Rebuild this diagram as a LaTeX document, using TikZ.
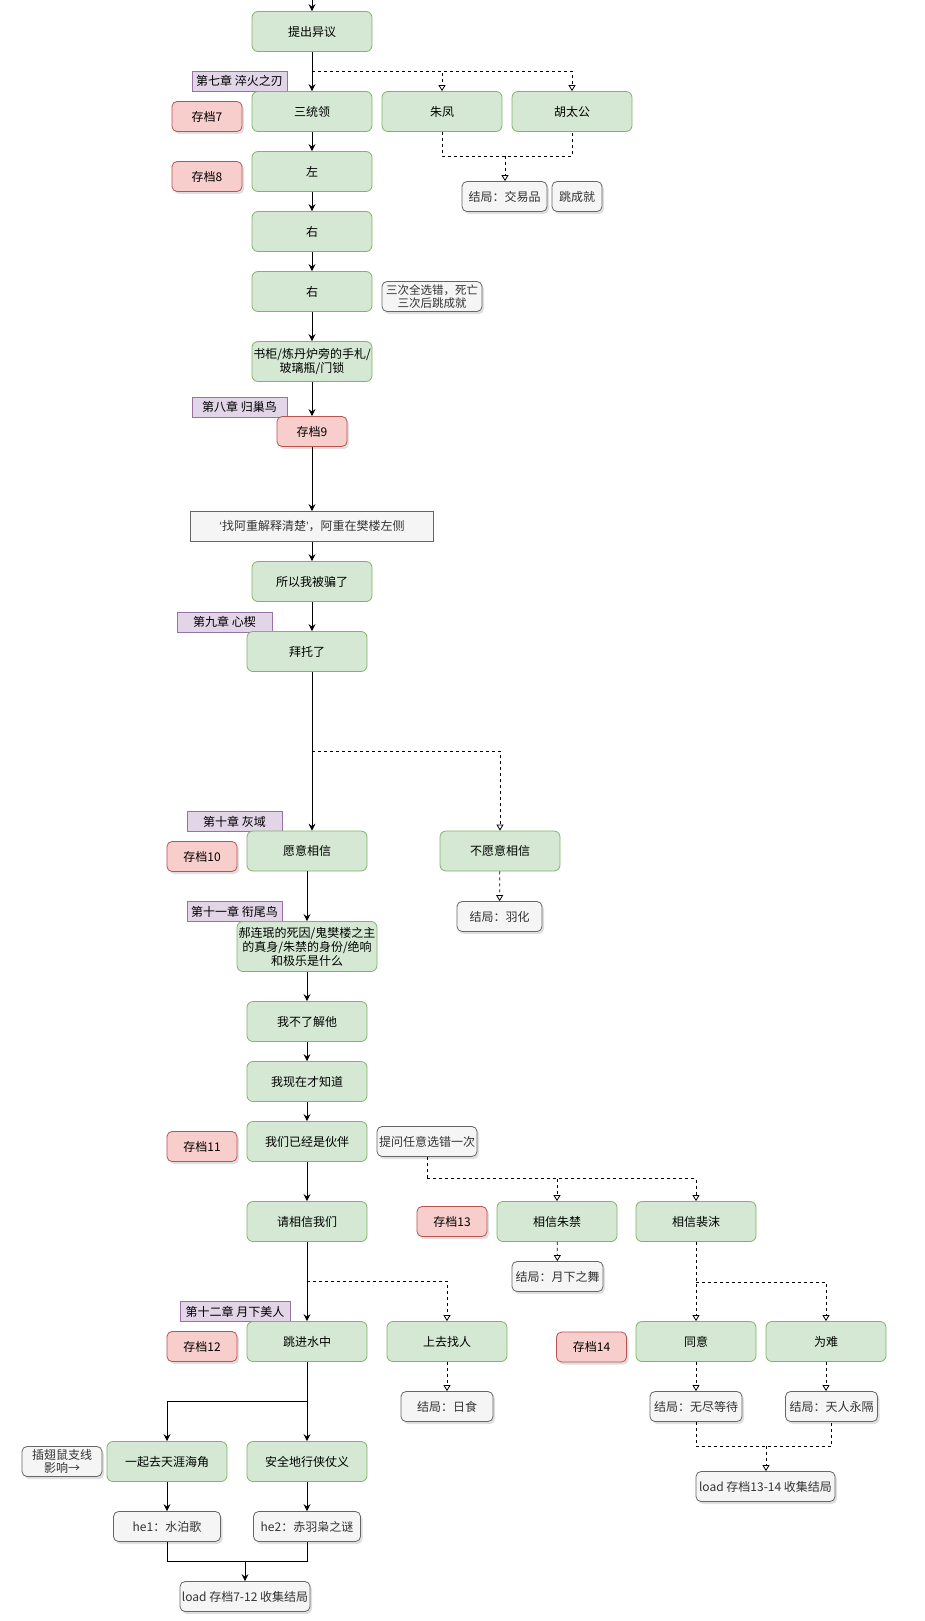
\documentclass[tikz,border=0pt]{standalone}
\usepackage{fontspec}
\setmainfont{Noto Sans CJK SC}
\newfontfamily\latinq{Liberation Sans}
\usetikzlibrary{arrows.meta,shadows,calc}
\definecolor{gfill}{HTML}{D5E8D4}
\definecolor{gborder}{HTML}{82B366}
\definecolor{rfill}{HTML}{F8CECC}
\definecolor{rborder}{HTML}{B85450}
\definecolor{pfill}{HTML}{E1D5E7}
\definecolor{pborder}{HTML}{9673A6}
\definecolor{efill}{HTML}{F5F5F5}
\definecolor{eborder}{HTML}{666666}
\definecolor{etext}{HTML}{333333}
\tikzset{
  base/.style={font=\fontsize{12}{14}\selectfont, inner sep=1pt, align=center, line width=0.8pt},
  shd/.style={drop shadow={opacity=0.25, shadow xshift=2pt, shadow yshift=-2.5pt}},
  gbox/.style={base, draw=gborder, fill=gfill, rounded corners=6pt, minimum width=120pt, minimum height=40pt},
  rbox/.style={base, shd, draw=rborder, fill=rfill, rounded corners=5pt, minimum width=70pt, minimum height=30pt},
  pbox/.style={base, draw=pborder, fill=pfill, minimum width=95pt, minimum height=20pt},
  ebox/.style={base, shd, draw=eborder, fill=efill, text=etext, rounded corners=5pt, minimum height=30pt},
  arr/.style={line width=0.8pt, -{Stealth[length=7pt,width=7pt,inset=2.5pt]}},
  darr/.style={line width=0.8pt, dash pattern=on 3pt off 3pt, -{Triangle[open,length=6pt,width=7pt]}},
  dline/.style={line width=0.8pt, dash pattern=on 3pt off 3pt},
  sline/.style={line width=0.8pt},
}
\begin{document}
\begin{tikzpicture}[x=1pt,y=-1pt]
\useasboundingbox[fill=white] (0,0) rectangle (925,1621);

% ---- Chapter 7 ----
\node[gbox] (tichu) at (312,31.5) {提出异议};
\node[pbox] (ch7) at (239.5,81) {第七章 淬火之刃};
\node[gbox] (stl) at (312,111.5) {三统领};
\node[gbox] (zf) at (442,111.5) {朱凤};
\node[gbox] (htg) at (572,111.5) {胡太公};
\node[rbox] (s7) at (207,116.5) {存档7};
\node[gbox] (zuo) at (312,171.5) {左};
\node[rbox] (s8) at (207,176.5) {存档8};
\node[ebox, minimum width=85pt] (jy) at (504.5,196.5) {结局：交易品};
\node[ebox, minimum width=50pt] (tcj) at (577,196.5) {跳成就};
\node[gbox] (r1) at (312,231.5) {右};
\node[gbox] (r2) at (312,291.5) {右};
\node[ebox, minimum width=100pt, font=\fontsize{11.5}{13}\selectfont] (note1) at (432,296.5) {三次全选错，死亡\\三次后跳成就};
\node[gbox] (sg) at (312,361.5) {书柜/炼丹炉旁的手札/\\玻璃瓶/门锁};

% ---- Chapter 8 ----
\node[pbox] (ch8) at (239.5,407) {第八章 归巢鸟};
\node[rbox] (s9) at (312,431.5) {存档9};
\node[base, draw=eborder, fill=efill, text=etext, minimum width=243pt, minimum height=30pt] (zac) at (312,526.5) {{\latinq ‘}找阿重解释清楚{\latinq ’}，阿重在樊楼左侧};
\node[gbox] (sy) at (312,581.5) {所以我被骗了};

% ---- Chapter 9 ----
\node[pbox] (ch9) at (224.5,622) {第九章 心楔};
\node[gbox] (bt) at (307,651.5) {拜托了};

% ---- Chapter 10 ----
\node[pbox] (ch10) at (234.5,821.5) {第十章 灰域};
\node[gbox] (yy) at (307,851) {愿意相信};
\node[rbox] (s10) at (202,856.5) {存档10};
\node[gbox] (byy) at (500,851) {不愿意相信};
\node[ebox, minimum width=85pt] (yh) at (499.5,916.5) {结局：羽化};

% ---- Chapter 11 ----
\node[pbox] (ch11) at (234.5,911.5) {第十一章 衔尾鸟};
\node[gbox, minimum width=140pt, minimum height=50pt] (hl) at (307,946.5) {郝连珉的死因/鬼樊楼之主\\的真身/朱禁的身份/绝响\\和极乐是什么};
\node[gbox] (wbl) at (307,1021.5) {我不了解他};
\node[gbox] (wxz) at (307,1081.5) {我现在才知道};
\node[gbox] (wmy) at (307,1141.5) {我们已经是伙伴};
\node[rbox] (s11) at (202,1146.5) {存档11};
\node[ebox, minimum width=100pt] (tw) at (427,1141.5) {提问任意选错一次};
\node[gbox] (qxx) at (307,1221.5) {请相信我们};
\node[rbox] (s13) at (452,1221.5) {存档13};
\node[gbox] (xzj) at (557,1221.5) {相信朱禁};
\node[gbox] (xpm) at (696,1221.5) {相信裴沫};
\node[ebox, minimum width=91pt] (yxz) at (557.5,1276.5) {结局：月下之舞};

% ---- Chapter 12 ----
\node[pbox, minimum width=110pt] (ch12) at (235,1311.5) {第十二章 月下美人};
\node[gbox] (tjs) at (307,1341.5) {跳进水中};
\node[rbox] (s12) at (202,1346.5) {存档12};
\node[gbox] (sqz) at (447,1341.5) {上去找人};
\node[ebox, minimum width=92pt] (rs) at (447,1406.5) {结局：日食};
\node[rbox] (s14) at (591.5,1347) {存档14};
\node[gbox] (ty) at (696,1341.5) {同意};
\node[gbox] (wn) at (826,1341.5) {为难};
\node[ebox, minimum width=92pt] (wjd) at (696,1406.5) {结局：无尽等待};
\node[ebox, minimum width=92pt] (try) at (831.5,1406.5) {结局：天人永隔};
\node[ebox, minimum width=139pt] (l1314) at (765.5,1486.5) {load 存档13-14 收集结局};
\node[gbox] (yqq) at (167,1461.5) {一起去天涯海角};
\node[gbox] (aq) at (307,1461.5) {安全地行侠仗义};
\node[ebox, minimum width=80pt, font=\fontsize{12}{13}\selectfont] (cc) at (62,1461.5) {插翅鼠支线\\影响→};
\node[ebox, minimum width=107pt] (he1) at (167,1526.5) {he1：水泊歌};
\node[ebox, minimum width=107pt] (he2) at (307,1526.5) {he2：赤羽枭之谜};
\node[ebox, minimum width=130pt] (l712) at (245,1596.5) {load 存档7-12 收集结局};

% ---- junction coordinates ----
\coordinate (topc) at (312,0);
\coordinate (j1) at (312,71);
\coordinate (j3) at (505,156);
\coordinate (j2) at (312,751);
\coordinate (j4) at (427,1178.5);
\coordinate (j5) at (307,1281);
\coordinate (j6) at (696,1282);
\coordinate (j7) at (766,1446);
\coordinate (j8) at (307,1401);
\coordinate (j9) at (245,1561);

% ---- connectors ----
\draw[arr] (topc) -- (tichu);
\draw[arr] (tichu) -- (stl);
\draw[darr] (j1) -| (zf.north);
\draw[darr] (j1) -| (htg.north);
\draw[dline] (zf.south) |- (j3) -| (htg.south);
\draw[darr] (j3) -- (j3 |- jy.north);
\draw[arr] (stl) -- (zuo);
\draw[arr] (zuo) -- (r1);
\draw[arr] (r1) -- (r2);
\draw[arr] (r2) -- (sg);
\draw[arr] (sg) -- (s9);
\draw[arr] (s9) -- (zac);
\draw[arr] (zac) -- (sy);
\draw[arr] (sy.south) -- (sy.south |- bt.north);
\draw[arr] (sy.south |- bt.south) -- (sy.south |- yy.north);
\draw[darr] (j2) -| (byy.north);
\draw[darr] (byy) -- (yh);
\draw[arr] (yy) -- (hl);
\draw[arr] (hl) -- (wbl);
\draw[arr] (wbl) -- (wxz);
\draw[arr] (wxz) -- (wmy);
\draw[arr] (wmy) -- (qxx);
\draw[dline] (tw.south) |- (j4);
\draw[darr] (j4) -| (xpm.north);
\draw[darr] (xzj.north |- j4) -- (xzj.north);
\draw[darr] (xzj) -- (yxz);
\draw[arr] (qxx) -- (tjs);
\draw[darr] (j5) -| (sqz.north);
\draw[darr] (sqz) -- (rs);
\draw[darr] (xpm) -- (ty);
\draw[darr] (j6) -| (wn.north);
\draw[darr] (ty) -- (wjd);
\draw[darr] (wn.south) -- (wn.south |- try.north);
\draw[dline] (wjd.south) |- (j7) -| (try.south);
\draw[darr] (j7) -- (j7 |- l1314.north);
\draw[arr] (tjs) -- (aq);
\draw[arr] (j8) -| (yqq.north);
\draw[arr] (yqq) -- (he1);
\draw[arr] (aq) -- (he2);
\draw[sline] (he1.south) |- (j9) -| (he2.south);
\draw[arr] (j9) -- (l712);
\end{tikzpicture}
\end{document}
